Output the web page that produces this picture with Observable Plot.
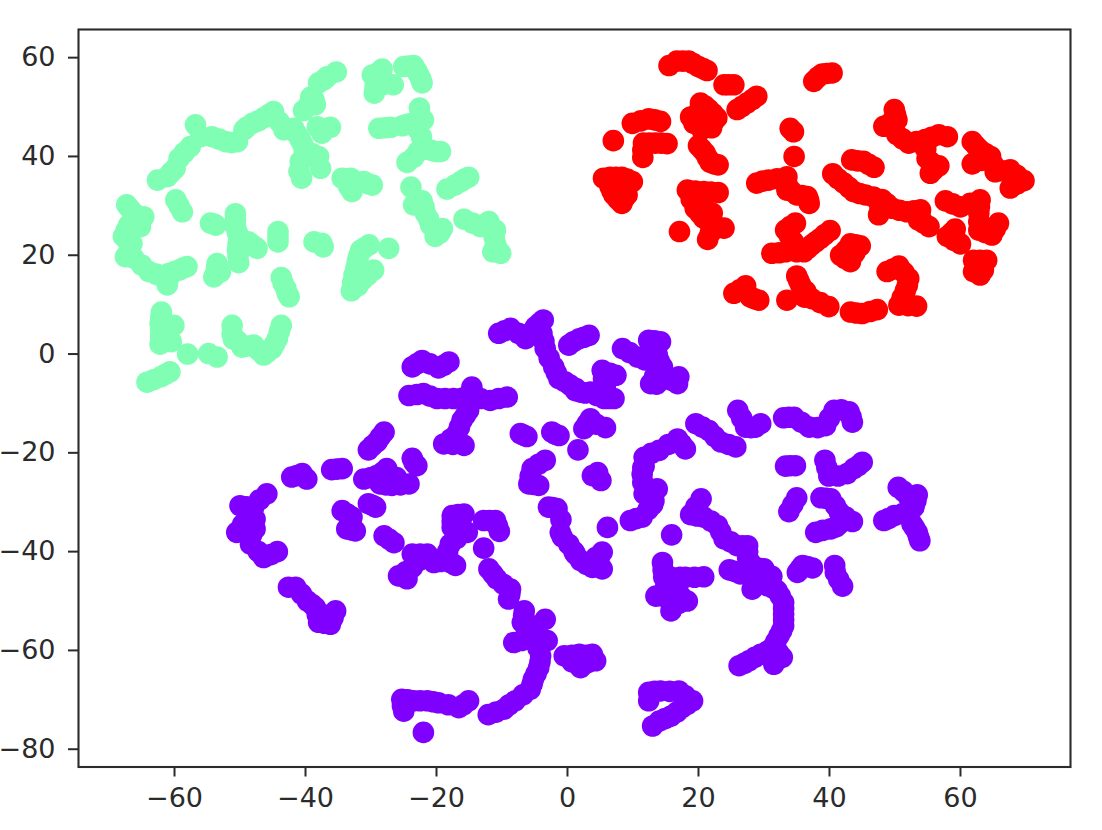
<!DOCTYPE html>
<html>
<head>
<meta charset="utf-8">
<script src="https://cdn.jsdelivr.net/npm/d3@7"></script>
<script src="https://cdn.jsdelivr.net/npm/@observablehq/plot@0.6"></script>
<style>html,body{margin:0;padding:0;background:#fff}svg{display:block}</style>
</head>
<body>
<div id="chart"></div>
<script>
const xTicks = [-60,-40,-20,0,20,40,60];
const yTicks = [-80,-60,-40,-20,0,20,40,60];
const groupNames = ["a","b","c"];
const groupColors = ["#8000ff","#80ffb4","#ff0000"];

const groupB = [
[-35.3,57.1],[-36.7,56.1],[-38,54.9],[-38.7,51.5],[-39.7,50.1],[-40.3,49.3],[-38.5,50.5],[-36.2,45.9],[-37.7,45.7],[-37.5,44.7],
[-56.8,46.4],[-56,44],[-54.3,44],[-57.6,42],[-52.2,43],[-50.4,43],[-49.4,45.4],[-48.1,46.7],[-46.4,47.8],[-44.9,49.1],[-43.3,45.4],[-41.8,45.7],[-40.8,43.4],[-40.2,41.3],[-38,40],[-37.7,37.6],[-40.8,39],[-41,37],[-40.6,35.6],
[-59.3,39.6],[-59.9,37.6],[-61.1,35.9],[-62.6,35.2],[-59.8,31.2],[-58.8,28.8],
[-34.4,35.6],[-33.1,35.6],[-32.9,32.9],[-33.4,33.9],[-31.1,34.9],[-29.8,34.2],
[-28.3,57.7],[-29.8,56.5],[-29.3,54.9],[-29.5,52.8],[-26.6,54.5],[-25,58.2],[-23.5,58.4],[-22.7,56.5],[-22.2,54.9],
[-22.6,49.8],[-22,47.4],[-23.7,46.7],[-25.2,46.2],[-27,45.9],[-28.8,45.7],[-23,45.7],
[-22,42],[-19.4,41],[-20.9,41.3],[-23.5,39.8],[-15.1,35.8],[-16.3,34.9],[-18.4,33.4],
[-23.9,33.8],[-22.2,31],[-23.5,30.2],[-21.7,28.5],[-20.9,26.1],[-19.1,25.4],[-20.2,23.8],
[-15.8,27.3],[-13.3,25.8],[-12,26.8],[-11,25.1],[-11,22.4],[-10.2,20.4],[-11.4,20.7],
[-67.3,30.2],[-66.2,28.5],[-64.7,27.8],[-65.2,25.8],[-67,26.1],[-67.8,23.8],[-66.5,22.4],[-67.5,19.7],[-66.2,19.4],
[-63.9,16.7],[-62.4,16],[-61.1,14],[-60.9,16.3],[-59.3,17],[-58.1,17.7],
[-54.5,26.5],[-53.7,26.1],[-50.7,28.4],[-50.7,25.8],[-50.2,23.4],[-50.4,21],[-50.2,18.5],[-48.7,22.7],[-47.4,21.4],
[-53.5,18.3],[-53.7,16.3],[-54,15.6],[-53,16.6],[-44.2,24.8],[-44.2,22.7],[-38.7,22.7],[-37.5,22.4],[-37.3,21.7],
[-43.7,15.5],[-43,13.3],[-42.5,11.6],[-30.3,22.1],[-31.6,21],[-27.3,21.4],[-32.1,18.7],[-29.6,17],[-32.6,16],[-31.3,15],[-33,12.8],
[-62,8.5],[-62.2,6.2],[-60.1,5.8],[-62.1,3.8],[-62.2,2],[-60.5,2.5],[-58,0],[-54.8,0.1],[-53.5,-0.6],
[-60.7,-3.6],[-62.1,-4.6],[-64.2,-5.7],[-51.2,5.8],[-51.2,4.1],[-49.7,1.4],[-47.9,1.8],[-46.4,-0.2],[-45.1,1.1],[-44.3,3.1],[-43.7,5.8],
[-37.2,55.5],[-39.2,52],[-58.5,40.8],[-60.5,36.8],[-53.2,43.5],[-51.3,42.8],[-47.2,47.2],[-49,45.9],[-45.6,48.5],[-44,47],[-42.5,45.6],
[-41.3,44.5],[-40.4,42.4],[-39,40.6],[-40,39.8],[-59.3,30],[-27.9,45.8],[-24.5,46.5],[-22.3,44],[-22.8,41],[-20.1,41],[-24.5,38.8],
[-17.2,34.2],[-15.7,35.4],[-21.9,29.8],[-21.2,27.3],[-20,24.8],[-19.5,24.5],[-14.5,26.5],[-12.6,26.3],[-11.2,23.7],[-10.7,21.3],
[-66.8,29.4],[-65.5,27],[-67.4,25],[-67.2,23],[-66.9,21],[-65,18],[-62.8,16.2],[-61,15],[-60,16.7],[-58.7,17.4],
[-50.7,27.2],[-50.4,24.6],[-50.3,22.2],[-50.3,19.8],[-48,22],[-53.6,17.4],[-43.4,14.3],[-42.8,12.3],[-44.2,23.7],
[-31,21.5],[-31.9,19.8],[-32.3,17.4],[-32.8,14.5],[-32,13.8],[-30.5,16],[-62.1,7.4],[-62.1,5],[-62.1,2.9],[-61,4.5],
[-61.4,-4.1],[-63.2,-5.2],[-51,3],[-50.4,2.7],[-49,1.6],[-47.2,0.8],[-45.8,0.4],[-44.7,2.1],[-44,4.5],
[-29.4,53.8],[-24.3,58.3],[-28,54.6],[-29,56.9],[-23,57.3],[-22.4,55.7],[-54,26.3],[-33.8,35],[-32.5,35],[-30.5,34.5],[-38.2,46]
];

const groupC = [
[15.5,58.4],[16.7,59.3],[18.5,59.3],[20,58.2],[21.3,57.4],[23.9,54.5],[25.4,54.5],[28.9,52.2],[27.4,50.8],[25.9,49.5],
[37.6,55.2],[38.9,56.7],[40.4,56.9],[20.3,50.8],[21.6,49.5],[22.8,47.8],[19.3,46.7],[21.3,46.7],
[9.9,46.7],[12.4,47.6],[14.2,47.1],[7,43.2],[11.6,42.7],[15.2,42.6],[13.4,42.7],[11.5,39.8],
[20,42.2],[21,40.7],[21.8,38.8],[23,38.3],
[5.5,35.6],[8.3,35.8],[9.9,34.9],[6.5,33.9],[8.1,33.9],[9.1,32.2],[8.3,30.5],[7.1,32.2],
[18.3,33.2],[20.8,32.9],[23,32.7],[19.5,29.5],[22.1,28.5],[20.8,27.5],[22.1,25.8],[23.9,25.5],[21.4,23.2],[17.1,24.8],
[34,45.7],[34.5,45],[34.6,40],[28.9,34.6],[30.7,35.2],[33.5,35.9],[33.5,33.2],[35,32.2],[36.6,31.9],[36.9,30.5],
[34.8,26.5],[33.3,25.1],[34.5,22.7],[40.1,25],[38.6,23.4],[37.3,22.1],[36.1,20.7],[33.3,20.7],[31.2,20.4],
[43.4,39.3],[45.2,39],[46.8,37.8],[40.5,36.5],[42.2,34.6],[43.7,32.9],[45.5,32.2],[48,31.3],[47.5,28.2],[49.6,29.5],[51.8,28.8],[53.9,29.2],[53.6,27.1],[55.2,25.8],
[43.2,22.3],[44.7,21.9],[41.7,20],[43.2,18.7],
[49.9,49.5],[50.3,47.4],[48.3,46.1],[50.3,44.4],[52.1,42.7],[54.6,43.4],[56.7,44.4],[58,44],[54.9,39.6],[56.7,38.1],[55.4,36.6],
[61.8,43],[63,41.3],[64.6,40],[61.8,38.5],[65.3,36.9],[67.6,37.3],[69.7,35.1],[67.6,33.6],
[57.7,31],[60,29.8],[63,31.2],[62.8,28.5],[62.8,25.1],[64.8,24.1],[65.8,26.5],[59.2,25.3],[58,23.8],[60,22.3],
[62,19],[64,19],[62,16.7],[63,17.7],[63.5,17],[18.8,48],[20,49],[22,45.8],[20.5,45.5],
[35,15.8],[35.6,14],[33.5,10.9],[37.3,11.2],[39.9,9.6],[25.4,12.3],[27.2,13.8],[27.9,11.6],[29.2,10.9],
[43.2,8.5],[45,8.2],[47.3,9],[48.8,16.7],[50.6,17.8],[52.1,15.3],[51.6,12.9],[50.6,9.9],[53.3,9.7],
[17.6,59.3],[19.2,58.8],[20.7,57.8],[24.6,54.5],[28.2,51.5],[26.6,50.1],[38.2,56],[39.6,56.8],[21,50.2],[22.2,48.7],[20.3,47],[22.3,47],[11.2,47.2],[13.3,47.4],[11.5,41.3],[12.5,42.7],[14.3,42.7],[20.5,41.5],[21.4,39.7],[22.4,38.5],
[6.5,35.8],[7.4,35.8],[9.1,35.4],[6.8,33],[8.6,31.4],[7.7,31.3],[8.7,33],[7,35],[8,34.8],[9,34],
[19.5,33],[21.9,32.8],[18.9,31.3],[20.2,28.5],[21.3,29],[21.4,27],[21.8,24.5],[23,25.6],
[29.8,35],[32,35.5],[34.2,33],[35.8,32.1],[33.5,34.5],[36.8,31.2],
[34,25.8],[33.9,23.9],[39.3,24.2],[37.9,22.7],[36.7,21.4],[34.8,21.5],[32.3,20.5],[35,20.7],
[44.3,39.1],[46,38.4],[41.3,35.5],[43,33.7],[44.6,32.5],[46.7,31.8],[47.7,29.8],[48.8,30.4],[50.7,29.1],[52.9,29],[53.8,28.2],[54.4,26.5],
[44,22.1],[42.4,19.3],[42.5,21],[43.9,20.5],
[50.1,48.4],[49.3,46.8],[51.2,43.5],[53.3,43],[55.6,43.9],[54.7,41.5],[55.5,38.8],[56,37.4],
[62.4,42.1],[63.8,40.6],[63.2,39.2],[66.4,37.1],[68.6,36.2],[68.6,34.4],[65,38.4],
[58.8,30.4],[61.5,30.5],[62.9,29.8],[62.8,26.8],[63.8,24.6],[65.3,25.3],[58.6,24.5],[59,23],
[63,19],[63,16],[35.3,14.9],[36.4,12.7],[36.2,11.5],[38.6,10.4],[26.3,13],[28.5,11.2],
[44.1,8.3],[46.2,8.6],[49.7,17.2],[51.4,16.5],[51.9,14],[51.1,11.4],[52,9.8],[51.5,11]
];

const groupA = [
[-10.5,4.2],[-8.7,5.2],[-6.4,3.1],[-4.9,5.5],[-3.7,6.9],[-3.9,4.2],[-3.4,1.1],[-2.1,-2.6],[-1.3,-5],[0.4,-6.3],[2,-7.7],
[-23.7,-2.6],[-22.2,-1.3],[-18.9,-2.3],[-18.1,-1.6],
[-24.2,-8.4],[-22,-8],[-19.9,-9],[-17.4,-9],[-14.8,-8.7],[-14.6,-6.7],[-11.8,-9.4],[-9.2,-8.7],[-15.1,-11.4],[-16.1,-13.4],[-16.9,-16.1],[-18.9,-18.2],[-15.8,-18.5],
[-28,-15.8],[-29.1,-17.8],[-30.4,-19.4],[-23.7,-21.1],[-23,-22.6],[-27.6,-23.2],[-24.2,-26.3],[-26.8,-26.6],[-28.6,-26.3],[-31.1,-25.3],[-29.1,-24.6],
[-42.1,-24.9],[-40.5,-24.2],[-39.8,-25.3],[-36,-23.4],[-34.4,-23.2],
[-45.9,-28.3],[-50,-30.7],[-47.9,-31],[-48.9,-33],[-47.7,-33.4],[-50.5,-36.1],[-47.7,-35.4],[-48.4,-38.5],[-46.4,-41.2],[-44.3,-40],
[-34.4,-31.7],[-32.9,-33],[-33.7,-35.4],[-32.4,-35.8],[-30.4,-30.3],[-29.3,-31],[-28,-36.8],[-26.5,-38.2],
[-42.6,-47.2],[-41.5,-47.2],[-39.7,-50],[-38.5,-51.3],[-38,-54.3],[-36.2,-54.7],[-35.4,-52],
[-23.7,-40.5],[-21.4,-40.5],[-20.4,-42.2],[-18.4,-41.8],[-17.1,-42.8],[-23.7,-43.2],[-25.8,-44.9],[-24.5,-45.5],
[-17.6,-32.7],[-15.8,-32.4],[-17.6,-35.1],[-15.3,-36.1],[-17.9,-38.5],[-12.8,-33.7],[-11,-33.7],[-10.4,-35.9],[-12.8,-39.3],
[-12,-43.5],[-10.8,-45.5],[-8.7,-47.6],[-9,-49.6],[-6.6,-52],[-3.4,-53.7],[-6.9,-54.3],[-5.7,-56],[-8.2,-58.4],[-6.2,-57.7],[-3.1,-58],[-4.1,-61.1],[-4.4,-63.5],[-5.2,-65.8],[-5.7,-67.9],[-8,-70.2],[-9.7,-71.9],[-12.1,-73],
[-15.1,-70.2],[-16.6,-71.6],[-19.7,-70.6],[-21.4,-70.2],[-23.5,-70.2],[-25.3,-69.9],[-25,-72.3],[-22,-76.6],
[-7.2,-16.1],[-6.2,-16.7],[-2.4,-15.8],[-1.3,-16.5],[1.6,-19.4],[-3.4,-21.5],[-5.4,-23.2],[-5.9,-26.3],[-4.4,-26.6],[-2.9,-31],[-1.6,-31.3],[-1.1,-36.1],[0.2,-38.5],
[0.2,1.8],[1.8,3.1],[3.3,3.8],[1.3,-7],[3.5,-7.7],[5.6,-9],[7.1,-9],[5.3,-3.3],[7.4,-4.3],[5.8,-6.3],
[8.4,1.1],[10.7,-0.6],[12.4,2.8],[14.2,2.5],[13.7,-0.1],[14.5,-2.6],[12.7,-6],[17,-4.6],[16.8,-6],[14.7,-5],
[3.5,-13.1],[2.5,-15.1],[5.8,-14.9],[4.6,-24],[3.8,-24.6],[5.1,-25.6],
[2,-41.8],[3.8,-43.2],[5.3,-40.1],[5.3,-43.5],[4.3,-41.2],[6.1,-35.1],
[9.6,-33.7],[11.4,-33],[13.2,-29.7],[11.7,-28.3],[13.7,-27.3],[11.4,-24.3],[11.7,-20.9],[14,-19.5],[16.8,-17.2],[18,-19.2],
[19.6,-14.1],[21.6,-15.5],[23.4,-17.8],[25.7,-18.8],[26,-11.4],[27.2,-14.8],[29.5,-14.1],[28.7,-14.8],
[33,-12.9],[34.6,-12.8],[36.9,-14.8],[39.4,-14.5],[40.7,-11.4],[43,-11.7],[43.5,-13.8],
[33.3,-22.7],[34.8,-22.6],[39.3,-21.5],[39.9,-24.7],[42.7,-24.2],[45,-21.9],[43.7,-23.2],
[50.5,-27],[53.4,-28.5],[52.9,-31],[52.1,-29],[49.9,-32.7],[48.3,-33.7],[52.6,-34.4],[53.4,-36.1],[53.8,-37.8],
[35,-29.1],[33.8,-31.9],[38.7,-29.1],[40.2,-29.3],[41.5,-32],[43.5,-33.9],[40.2,-35.4],[37.9,-36.1],[41.5,-34.4],
[35.9,-42.8],[37.4,-43.3],[35.1,-44.2],[40.8,-42.8],[40.9,-44.2],[42,-47],
[20.4,-29.3],[18.8,-32.5],[20.8,-33],[22.9,-34.7],[23.9,-37.4],[25.9,-38.8],[27.5,-38.8],[27.5,-41.2],[15.9,-36.6],
[24.7,-43.7],[26.4,-44.5],[28.2,-43.2],[28.2,-47.6],[30,-43.5],[30.5,-46.9],[32,-47.9],[33,-50.3],[33,-52.7],[33,-55],[32.3,-57],[31.3,-59.4],[32.8,-61.4],[31.5,-62.8],[29.5,-60.8],[27.7,-62.1],[26.2,-63.1],
[14.5,-42.2],[14.7,-45.2],[18,-45.2],[20.8,-45.1],[13.5,-49],[16.3,-48],[18.3,-50],[15.8,-52],[16,-49],
[12.4,-68.5],[12.4,-70.2],[14.2,-68.2],[17,-68.2],[19.1,-70.2],[17.5,-71.6],[15.8,-73.3],[14,-74.3],[13,-75.3],
[-0.5,-61.1],[2,-63.5],[1.8,-60.8],[3.8,-60.8],[4.3,-62.1],
[-9.6,4.7],[-7.5,4.2],[-5.6,4.3],[-4.3,6.2],[-3.6,2.6],[-2.8,-0.8],[-1.7,-3.8],[-0.4,-5.6],[1.2,-7.4],[2.7,-7.9],
[-23,-2],[-21,-2],[-19.7,-2.8],[-23,-8.2],[-21,-8.5],[-18.7,-9],[-16,-8.9],[-13.3,-9],[-10.5,-9],[-14.7,-7.7],[-15.6,-12.4],[-16.5,-14.8],[-17.8,-17.2],[-17.5,-18.3],
[-28.6,-16.8],[-29.8,-18.6],[-23.4,-22],[-26.1,-25],[-25.5,-26.5],[-27.7,-26.5],[-30,-25],[-28.3,-24],[-41.3,-24.6],[-35.2,-23.3],
[-47,-29.5],[-49,-30.9],[-48.4,-32],[-49.6,-34.5],[-48.2,-36.5],[-47.2,-40],[-45.3,-40.6],[-48,-34.2],
[-33.6,-32.4],[-33.2,-34.4],[-33,-35.6],[-29.8,-30.6],[-27.2,-37.5],
[-40.6,-48.6],[-39,-50.7],[-38.2,-52.8],[-37.1,-54.5],[-35.8,-53.4],[-37.3,-52.8],
[-22.5,-40.5],[-21,-41.5],[-19.4,-42],[-17.7,-42.3],[-24.7,-44.1],[-22.7,-41.8],
[-16.7,-32.5],[-17.6,-33.9],[-16.5,-35.6],[-16.9,-37.3],[-18.3,-40],[-11.9,-33.7],[-10.7,-34.8],
[-11.4,-44.5],[-9.8,-46.6],[-8.8,-48.6],[-6.7,-53],[-6.3,-55.2],[-4.6,-55],[-7,-58],[-5,-57.7],[-4.5,-59.5],[-4.2,-62.3],[-4.8,-64.7],[-5.4,-66.8],[-6.8,-69],[-8.9,-71],[-10.9,-72.5],
[-15.9,-71],[-18.2,-71],[-20.5,-70.4],[-22.5,-70.2],[-24.4,-70],[-25.2,-71.2],
[-6.7,-16.4],[-1.9,-16.2],[-4.4,-22.3],[-5.7,-24.7],[-5.2,-26.4],[-2.3,-31.1],[-1,-33.5],[-0.8,-37],[1,-40],[1.2,-40.5],[2.9,-42.6],[4.8,-41.5],
[0.9,2.5],[2.5,3.4],[4.5,-8.4],[6.3,-9],[5.6,-4],[6.5,-3.9],[5.5,-5],
[9.5,0.3],[11.8,-1.2],[13.3,2.7],[13.5,1],[14,-1.4],[13.3,-4.5],[15.8,-5.3],[13.6,-6.1],[3,-14.1],[4.4,-14.2],[4.7,-25],
[10.5,-33.3],[12.3,-31.5],[13,-30.5],[12.7,-27.8],[11.5,-26],[11.7,-22.7],[11.5,-23],[12.8,-20.1],[15.4,-18.3],[17.4,-18.2],
[20.6,-14.8],[22.5,-16.7],[24.6,-18.3],[26.6,-13],[28,-14.9],
[33.8,-12.8],[35.7,-13.8],[38.2,-14.9],[40,-13],[41.8,-11.3],[43.3,-12.7],[34,-22.6],[39.6,-23],[41.3,-24.7],[44.4,-22.6],
[51.3,-27.8],[53.2,-29.7],[51.2,-32.3],[49,-33.3],[53,-35.2],[53.6,-37],[52.5,-30.5],
[34.4,-30.5],[39.5,-29.2],[40.9,-30.7],[42.5,-33],[39,-35.7],[41,-35],[36.6,-43],[35.5,-43.5],[41.4,-45.6],
[19.6,-30.9],[19.8,-32.8],[21.9,-33.8],[23.4,-36],[24.9,-38],[26.7,-38.8],[27.5,-40],[27.9,-42.2],
[25.5,-44],[27.3,-44],[29.1,-43.3],[29,-46],[29.5,-45.3],[31.2,-45],[31.4,-47.4],[32.5,-49],[33,-51.5],[33,-53.8],[32.7,-56],[31.8,-58.2],[32.2,-60.4],[30.5,-60.2],[28.6,-61.4],[27,-62.6],
[14.6,-43.7],[15.8,-45.2],[17.2,-45.2],[19.4,-45.2],[14.5,-49],[15,-49],[17.3,-49],[16.9,-50.5],[15,-47],
[13.3,-68.3],[15.6,-68.3],[18,-69.2],[18.3,-70.9],[16.7,-72.5],[14.9,-73.8],[0.7,-62.3],[0.7,-61],[2.9,-61],[3,-62.5]
];

const rows = [
  ...groupA.map(([x,y]) => ({x,y,g:groupNames[0]})),
  ...groupB.map(([x,y]) => ({x,y,g:groupNames[1]})),
  ...groupC.map(([x,y]) => ({x,y,g:groupNames[2]}))
];
const ink = "#2b2b2b";
const chart = Plot.plot({
  width: 1102,
  height: 830,
  marginLeft: 78,
  marginRight: 32,
  marginTop: 29,
  marginBottom: 63.5,
  style: {fontFamily: "'DejaVu Sans'", fontSize: "27px", background: "#fff", color: ink},
  x: {domain: [-74.66, 76.8], label: null},
  y: {domain: [-83.6, 65.7], label: null},
  color: {domain: groupNames, range: groupColors},
  marks: [
    Plot.dot(rows, {x: "x", y: "y", fill: "g", r: 10.8}),
    Plot.frame({stroke: ink, strokeWidth: 2.1}),
    Plot.axisX({ticks: xTicks, anchor: "bottom", tickSize: 10, tickPadding: 11, fontSize: 27, strokeWidth: 2, stroke: ink, fill: ink, label: null}),
    Plot.axisY({ticks: yTicks, anchor: "left", tickSize: 10, tickPadding: 13, fontSize: 27, strokeWidth: 2, stroke: ink, fill: ink, label: null})
  ]
});
document.getElementById("chart").appendChild(chart);
</script>
</body>
</html>
